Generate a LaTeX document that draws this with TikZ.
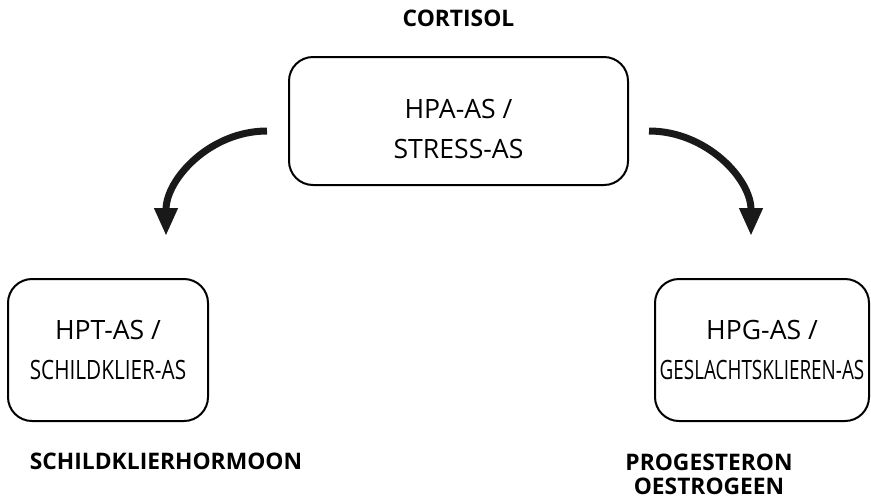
\documentclass[tikz,border=0pt]{standalone}
\usepackage{fontspec}
\setmainfont{Open Sans}
\usepackage{graphicx}
\usepackage{tikz}
\usetikzlibrary{arrows.meta}

\newcommand{\squeeze}[2]{\scalebox{#1}[1]{#2}}

\begin{document}
\begin{tikzpicture}[x=0.5pt, y=-0.5pt]
  % Define styles
  \tikzstyle{axis} = [draw, line width=1pt, rounded corners=12pt, align=center,
                      font=\fontsize{13.3}{20}\selectfont, inner sep=0pt]
  \tikzstyle{hormone} = [align=center, font=\fontsize{11.4}{12}\selectfont\bfseries, inner sep=0pt]
  \tikzstyle{bigarrow} = [-{Triangle[width=11pt, length=14pt]}, line width=3.5pt, color=black!90]

  \useasboundingbox (0,0) rectangle (871,499);

  % Nodes
  \node[axis, minimum width=169.5pt, minimum height=64pt, text height=38pt] (hpa) at (458.5,121) {HPA-AS /\\STRESS-AS};
  \node[axis, minimum width=100pt, minimum height=71pt] (hpt) at (108,350) {HPT-AS /\\\squeeze{0.78}{SCHILDKLIER-AS}};
  \node[axis, minimum width=107pt, minimum height=71pt] (hpg) at (762,350) {HPG-AS /\\\squeeze{0.71}{GESLACHTSKLIEREN-AS}};

  \node[hormone] (cortisol) at (458.5,18) {CORTISOL};
  \node[hormone] (thyroid) at (166,461) {SCHILDKLIERHORMOON};
  \node[hormone] (sex) at (709,474) {PROGESTERON\\OESTROGEEN};

  % Arrow ends
  \coordinate (lstart) at ([xshift=-10.5pt, yshift=-5pt]hpa.west);
  \coordinate (rstart) at ([xshift=10pt, yshift=-5pt]hpa.east);
  \coordinate (lend) at ([xshift=29pt, yshift=21pt]hpt.north);
  \coordinate (rend) at ([xshift=-5.5pt, yshift=21pt]hpg.north);

  % Arrows
  \draw[bigarrow] (lstart) to[out=180, in=90] (lend);
  \draw[bigarrow] (rstart) to[out=0, in=90] (rend);
\end{tikzpicture}
\end{document}
